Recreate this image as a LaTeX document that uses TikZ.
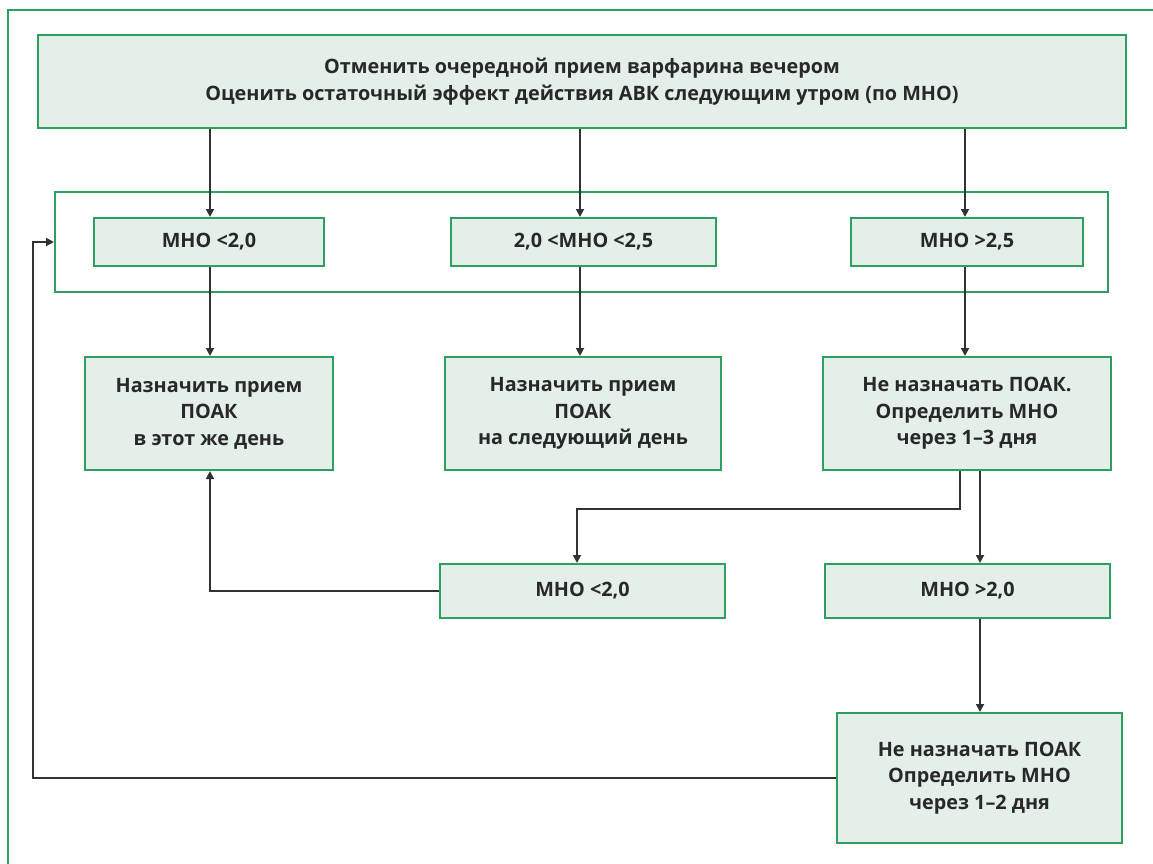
\documentclass[tikz,border=0pt]{standalone}
\usepackage{fontspec}
\setmainfont{Open Sans}
\usetikzlibrary{arrows.meta}
\definecolor{gline}{RGB}{45,160,95}
\definecolor{gfill}{RGB}{228,239,233}
\definecolor{ink}{RGB}{40,40,40}
\definecolor{cline}{RGB}{50,50,50}
\tikzset{
  box/.style={draw=gline, line width=2pt, fill=gfill, inner sep=0pt, align=center,
    text=ink, font=\fontsize{19.8}{26.5}\selectfont\bfseries},
  grp/.style={draw=gline, line width=2pt, inner sep=0pt},
  frame/.style={draw=gline, line width=2pt},
  arr/.style={draw=cline, line width=1.8pt, -{Triangle[length=8pt,width=8pt]}},
  ln/.style={draw=cline, line width=1.8pt}
}
\begin{document}
\begin{tikzpicture}[x=1pt,y=-1pt]
\useasboundingbox (0,0) rectangle (1153,863);
\draw[frame] (8,870) -- (8,9.5) -- (1160,9.5);
\node[box, minimum width=1088pt, minimum height=93pt] (top) at (582,81.5)
  {Отменить очередной прием варфарина вечером\\Оценить остаточный эффект действия АВК следующим утром (по МНО)};
\node[grp, minimum width=1053pt, minimum height=100pt] (grp) at (581.5,242) {};
\node[box, minimum width=230pt, minimum height=48pt] (r1a) at (209,242) {МНО <2,0};
\node[box, minimum width=265pt, minimum height=48pt] (r1b) at (583.5,242) {2,0 <МНО <2,5};
\node[box, minimum width=232pt, minimum height=48pt] (r1c) at (967,242) {МНО >2,5};
\node[box, minimum width=248pt, minimum height=113pt] (A) at (209,413.5)
  {Назначить прием\\ПОАК\\в этот же день};
\node[box, minimum width=276pt, minimum height=113pt] (B) at (583,413.5)
  {Назначить прием\\ПОАК\\на следующий день};
\node[box, minimum width=288pt, minimum height=113pt] (C) at (967,413.5)
  {Не назначать ПОАК.\\Определить МНО\\через 1–3 дня};
\node[box, minimum width=285pt, minimum height=54pt] (D) at (582.5,591) {МНО <2,0};
\node[box, minimum width=285pt, minimum height=54pt] (E) at (967.5,591) {МНО >2,0};
\node[box, minimum width=285pt, minimum height=130pt] (F) at (979.5,778)
  {Не назначать ПОАК\\Определить МНО\\через 1–2 дня};
% arrows from top
\coordinate (xa) at (210,0);
\coordinate (xb) at (580,0);
\coordinate (xc) at (965,0);
\coordinate (xe) at (980,0);
\draw[arr] (top.south -| xa) -- (r1a.north -| xa);
\draw[arr] (top.south -| xb) -- (r1b.north -| xb);
\draw[arr] (top.south -| xc) -- (r1c.north -| xc);
% row1 -> row2
\draw[arr] (r1a.south -| xa) -- (A.north -| xa);
\draw[arr] (r1b.south -| xb) -- (B.north -| xb);
\draw[arr] (r1c.south -| xc) -- (C.north -| xc);
% C -> D and E
\coordinate (cs) at ([xshift=-7pt]C.south);
\coordinate (dn) at ([xshift=-5.5pt]D.north);
\draw[arr] (cs) -- ++(0,38) -| (dn);
\draw[arr] (C.south -| xe) -- (E.north -| xe);
\draw[arr] (E.south -| xe) -- (F.north -| xe);
% D -> A
\draw[arr] (D.west) -| (A.south -| xa);
% F -> group
\coordinate (lp) at (33,242);
\draw[arr] (F.west) -| (lp) -- (grp.west);
\end{tikzpicture}
\end{document}
